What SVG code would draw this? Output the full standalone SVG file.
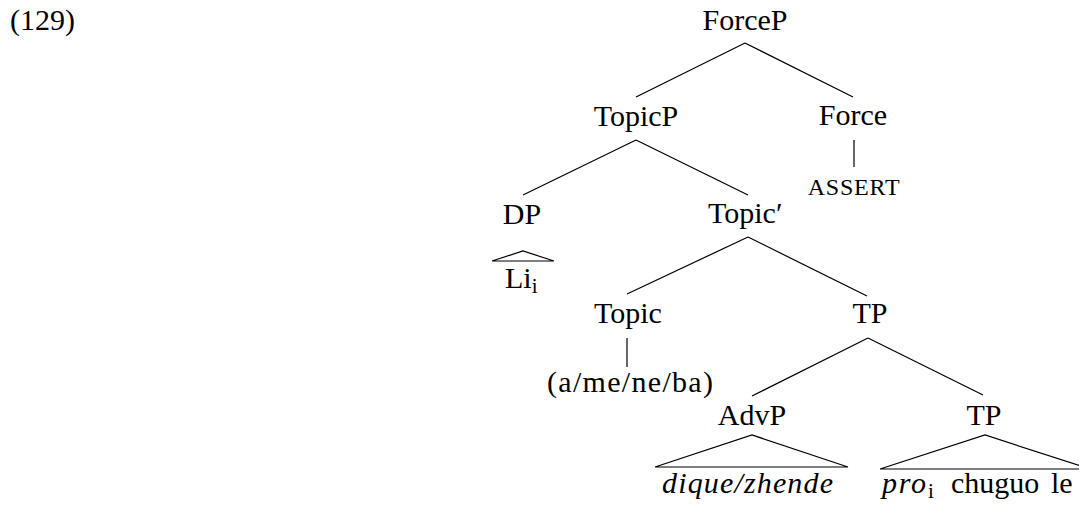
<svg xmlns="http://www.w3.org/2000/svg" width="1079" height="508" viewBox="0 0 1079 508" font-family="'Liberation Serif', Tinos, 'Times New Roman', 'DejaVu Serif', serif">
<style>
  text { font-family: 'Liberation Serif', Tinos, 'Times New Roman', 'DejaVu Serif', serif; font-size: 30px; fill: #000; }
  .lbl { text-anchor: middle; }
  .sc { font-size: 24px; letter-spacing: 0.8px; }
  .it { font-style: italic; }
  .sub { font-size: 21px; }
  line, polyline { stroke: #000; stroke-width: 1.2; fill: none; }
</style>
<rect width="1079" height="508" fill="#fff"/>
<text x="10" y="30">(129)</text>

<g id="connectors">
  <line x1="745" y1="43" x2="636" y2="97"/>
  <line x1="745" y1="43" x2="853" y2="97"/>
  <line x1="636" y1="140" x2="523" y2="195"/>
  <line x1="636" y1="140" x2="748" y2="195"/>
  <line x1="748" y1="237" x2="627" y2="294"/>
  <line x1="748" y1="237" x2="867" y2="296"/>
  <line x1="868" y1="338" x2="752" y2="396"/>
  <line x1="868" y1="338" x2="983" y2="395"/>
  <line x1="854" y1="140" x2="854" y2="167"/>
  <line x1="627" y1="338" x2="627" y2="367"/>
</g>

<g id="n-forcep"><text class="lbl" x="745" y="30">ForceP</text></g>
<g id="n-topicp"><text class="lbl" x="636" y="126">TopicP</text></g>
<g id="n-force"><text class="lbl" x="853" y="125">Force</text></g>
<g id="n-assert"><text class="lbl sc" x="854" y="195">ASSERT</text></g>
<g id="n-dp"><text class="lbl" x="522" y="224">DP</text></g>
<g id="n-li">
  <polyline points="492,261 523,251 554,261 492,261"/>
  <text x="505" y="288">Li<tspan class="sub" dy="5">i</tspan></text>
</g>
<g id="n-topicbar"><text x="708" y="223">Topic′</text></g>
<g id="n-topic"><text class="lbl" x="628" y="323">Topic</text></g>
<g id="n-particles"><text x="547" y="392" textLength="166" lengthAdjust="spacing">(a/me/ne/ba)</text></g>
<g id="n-tp1"><text class="lbl" x="870" y="323">TP</text></g>
<g id="n-advp">
  <text class="lbl" x="752" y="425">AdvP</text>
  <polyline points="655,467 752,435 848,467 655,467"/>
  <text class="it" x="662" y="493" textLength="171" lengthAdjust="spacing">dique/zhende</text>
</g>
<g id="n-tp2">
  <text class="lbl" x="984" y="425">TP</text>
  <polyline points="880,469 985,435 1090,469 880,469"/>
  <text class="it" x="882" y="493" textLength="44" lengthAdjust="spacing">pro</text>
  <text class="sub" x="928" y="498">i</text>
  <text x="951" y="493">chuguo</text>
  <text x="1051" y="493">le</text>
</g>
</svg>
